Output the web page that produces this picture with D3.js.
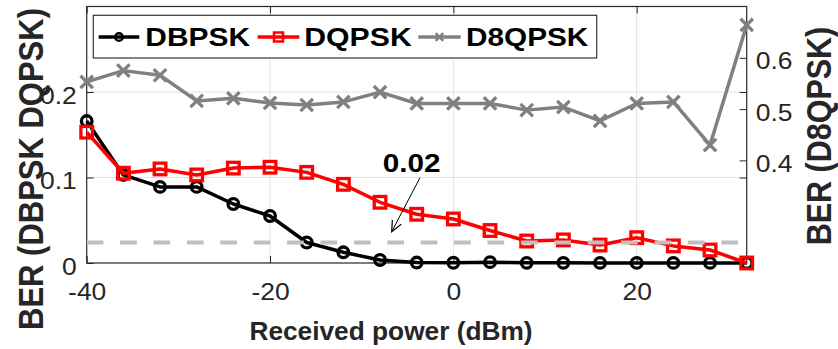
<!DOCTYPE html>
<html lang="en">
<head>
<meta charset="UTF-8">
<title>BER vs received power</title>
<script src="https://cdn.jsdelivr.net/npm/d3@7"></script>
<style>
body { margin: 0; background: #fff; }
text { font-family: "Liberation Sans", Arial, sans-serif; }
</style>
</head>
<body>
<div id="chart"></div>
<script>
// received power (dBm)
const power = [-40, -36, -32, -28, -24, -20, -16, -12, -8, -4, 0, 4, 8, 12, 16, 20, 24, 28, 32];
// BER, left axis
const dbpsk = [0.166, 0.103, 0.089, 0.089, 0.069, 0.055, 0.024, 0.0125, 0.0035, 0.0005, 0.0003, 0.001, 0.0002, 0.0002, 0.0001, 0.0001, 0.0001, 0.0001, 0.0001];
const dqpsk = [0.153, 0.105, 0.110, 0.103, 0.111, 0.112, 0.106, 0.092, 0.071, 0.057, 0.0515, 0.038, 0.0257, 0.027, 0.021, 0.0296, 0.020, 0.0152, 0];
// BER, right axis
const d8qpsk = [0.553, 0.575, 0.566, 0.516, 0.521, 0.512, 0.508, 0.514, 0.533, 0.511, 0.511, 0.511, 0.498, 0.504, 0.477, 0.511, 0.514, 0.430, 0.664];
const threshold = 0.024;

const xTicks = [-40, -20, 0, 20];
const yLeftTicks = [0, 0.1, 0.2];
const yRightTicks = [0.4, 0.5, 0.6];

const width = 838, height = 349;
const mLeft = 86.7, mRight = 746.7, mTop = 6.5, mBottom = 263;

const svg = d3.select("#chart").append("svg")
    .attr("width", width)
    .attr("height", height);

svg.append("rect").attr("width", width).attr("height", height).attr("fill", "#fff");

const x = d3.scaleLinear().domain([-40, 32]).range([mLeft, mRight]);
const yL = d3.scaleLinear().domain([0, 0.3]).range([mBottom, mTop]);
const yR = d3.scaleLinear().domain([0.2, 0.7]).range([mBottom, mTop]);

// stretch glyphs horizontally like the reference
function stretch(sel, k) {
    sel.each(function() {
        const w = this.getComputedTextLength();
        this.setAttribute("textLength", w * k);
        this.setAttribute("lengthAdjust", "spacingAndGlyphs");
    });
}

// grid
svg.append("g").selectAll("line").data(xTicks.slice(1)).join("line")
    .attr("x1", d => x(d)).attr("x2", d => x(d))
    .attr("y1", mTop).attr("y2", mBottom)
    .attr("stroke", "#e2e2e2").attr("stroke-width", 1);
svg.append("g").selectAll("line").data(yLeftTicks.slice(1)).join("line")
    .attr("x1", mLeft).attr("x2", mRight)
    .attr("y1", d => yL(d)).attr("y2", d => yL(d))
    .attr("stroke", "#e2e2e2").attr("stroke-width", 1);

// axes (ticks inward)
const fmt = d => String(d);
const gxB = svg.append("g").attr("transform", `translate(0,${mBottom})`)
    .call(d3.axisBottom(x).tickValues(xTicks).tickSize(-7).tickPadding(19).tickFormat(fmt));
const gxT = svg.append("g").attr("transform", `translate(0,${mTop})`)
    .call(d3.axisTop(x).tickValues(xTicks).tickSize(-7).tickFormat(""));
const gyL = svg.append("g").attr("transform", `translate(${mLeft},0)`)
    .call(d3.axisLeft(yL).tickValues(yLeftTicks).tickSize(-7).tickPadding(10).tickFormat(fmt));
const gyR = svg.append("g").attr("transform", `translate(${mRight},0)`)
    .call(d3.axisRight(yR).tickValues(yRightTicks).tickSize(-7).tickPadding(9).tickFormat(fmt));
const gyR2 = svg.append("g").attr("transform", `translate(${mRight},0)`)
    .call(d3.axisRight(yL).tickValues(yLeftTicks.slice(1)).tickSize(-7).tickFormat(""));

[gxB, gxT, gyL, gyR, gyR2].forEach(g => {
    g.select(".domain").remove();
    g.selectAll(".tick line").attr("stroke", "#262626");
    g.selectAll("text")
        .attr("fill", "#262626")
        .style("font-size", "24.5px");
});
gxB.selectAll("text").attr("dy", null).attr("y", 36.5);
gyL.selectAll("text").attr("dy", "0.45em");
gyR.selectAll("text").attr("dy", "0.45em");
stretch(gxB.selectAll("text"), 1.08);
stretch(gyL.selectAll("text"), 1.08);
stretch(gyR.selectAll("text"), 1.08);

// box
svg.append("rect")
    .attr("x", mLeft).attr("y", mTop)
    .attr("width", mRight - mLeft).attr("height", mBottom - mTop)
    .attr("fill", "none").attr("stroke", "#262626").attr("stroke-width", 1.2);

// markers
function drawMarker(g, type, color, s, sw) {
    if (type === "circle") {
        g.append("circle").attr("r", s).attr("fill", "none")
            .attr("stroke", color).attr("stroke-width", sw);
    } else if (type === "square") {
        g.append("rect").attr("x", -s).attr("y", -s)
            .attr("width", 2 * s).attr("height", 2 * s)
            .attr("fill", "none").attr("stroke", color).attr("stroke-width", sw);
    } else {
        g.append("path").attr("d", `M${-s},${-s}L${s},${s}M${-s},${s}L${s},${-s}`)
            .attr("stroke", color).attr("stroke-width", sw);
    }
}

const series = [
    { name: "DBPSK", values: dbpsk, y: yL, color: "#000000", marker: "circle", size: 5.3 },
    { name: "DQPSK", values: dqpsk, y: yL, color: "#ff0000", marker: "square", size: 5.8 },
    { name: "D8QPSK", values: d8qpsk, y: yR, color: "#808080", marker: "cross", size: 6.2 }
];

function drawSeries(s) {
    const line = d3.line().x((d, i) => x(power[i])).y(d => s.y(d));
    svg.append("path").datum(s.values)
        .attr("d", line)
        .attr("fill", "none")
        .attr("stroke", s.color)
        .attr("stroke-width", 3.5)
        .attr("stroke-linejoin", "round");
    svg.append("g").selectAll("g").data(s.values).join("g")
        .attr("transform", (d, i) => `translate(${x(power[i])},${s.y(d)})`)
        .each(function() { drawMarker(d3.select(this), s.marker, s.color, s.size, 3.3); });
}

drawSeries(series[0]);
drawSeries(series[1]);

// threshold line
svg.append("line")
    .attr("x1", x(-40)).attr("x2", x(32))
    .attr("y1", yL(threshold)).attr("y2", yL(threshold))
    .attr("stroke", "#bfbfbf").attr("stroke-width", 4)
    .attr("stroke-dasharray", "16.7,16.7");

drawSeries(series[2]);

// annotation
const ann = svg.append("text")
    .attr("x", 382.7).attr("y", 172.3)
    .attr("font-weight", "bold").style("font-size", "26.5px")
    .attr("fill", "#000")
    .text("0.02");
stretch(ann, 1.12);

svg.append("defs").append("marker")
    .attr("id", "arrow")
    .attr("viewBox", "0 0 12 12")
    .attr("refX", 11).attr("refY", 6)
    .attr("markerWidth", 12).attr("markerHeight", 12)
    .attr("markerUnits", "userSpaceOnUse")
    .attr("orient", "auto")
    .append("path")
    .attr("d", "M0,1L11,6L0,11")
    .attr("fill", "none").attr("stroke", "#000").attr("stroke-width", 1.2);

svg.append("line")
    .attr("x1", 420).attr("y1", 177.7)
    .attr("x2", 391.7).attr("y2", 231.7)
    .attr("stroke", "#000").attr("stroke-width", 1)
    .attr("marker-end", "url(#arrow)");

// legend
const lg = svg.append("g");
lg.append("rect")
    .attr("x", 93.3).attr("y", 15.3)
    .attr("width", 596.7 - 93.3).attr("height", 58 - 15.3)
    .attr("fill", "#fff").attr("stroke", "#333").attr("stroke-width", 1.2);

const legendPos = [
    { x0: 98.7, x1: 139.3, tx: 145.3, tw: 104.7 },
    { x0: 257.7, x1: 299.3, tx: 304.3, tw: 107.4 },
    { x0: 418.3, x1: 460.7, tx: 466, tw: 122.3 }
];
series.forEach((s, i) => {
    const p = legendPos[i];
    const ly = 37;
    lg.append("line")
        .attr("x1", p.x0).attr("x2", p.x1)
        .attr("y1", ly).attr("y2", ly)
        .attr("stroke", s.color).attr("stroke-width", 3.5);
    const mg = lg.append("g").attr("transform", `translate(${(p.x0 + p.x1) / 2},${ly})`);
    drawMarker(mg, s.marker, s.color, s.marker === "square" ? 4.5 : 3.8, 2.5);
    lg.append("text")
        .attr("x", p.tx).attr("y", 46.3)
        .attr("font-weight", "bold").style("font-size", "25px")
        .attr("fill", "#000")
        .attr("textLength", p.tw).attr("lengthAdjust", "spacingAndGlyphs")
        .text(s.name);
});

// axis titles
const xl = svg.append("text")
    .attr("x", 391).attr("y", 340)
    .attr("text-anchor", "middle")
    .attr("font-weight", "bold").style("font-size", "25.5px")
    .attr("fill", "#262626")
    .text("Received power (dBm)");
stretch(xl, 1.03);

svg.append("text")
    .attr("transform", "translate(43.3,169) rotate(-90) scale(1,1.15)")
    .attr("text-anchor", "middle")
    .attr("font-weight", "bold").style("font-size", "31px")
    .attr("fill", "#262626")
    .text("BER (DBPSK DQPSK)");

svg.append("text")
    .attr("transform", "translate(831,136) rotate(-90) scale(1,1.12)")
    .attr("text-anchor", "middle")
    .attr("font-weight", "bold").style("font-size", "30.5px")
    .attr("fill", "#262626")
    .text("BER (D8QPSK)");
</script>
</body>
</html>
